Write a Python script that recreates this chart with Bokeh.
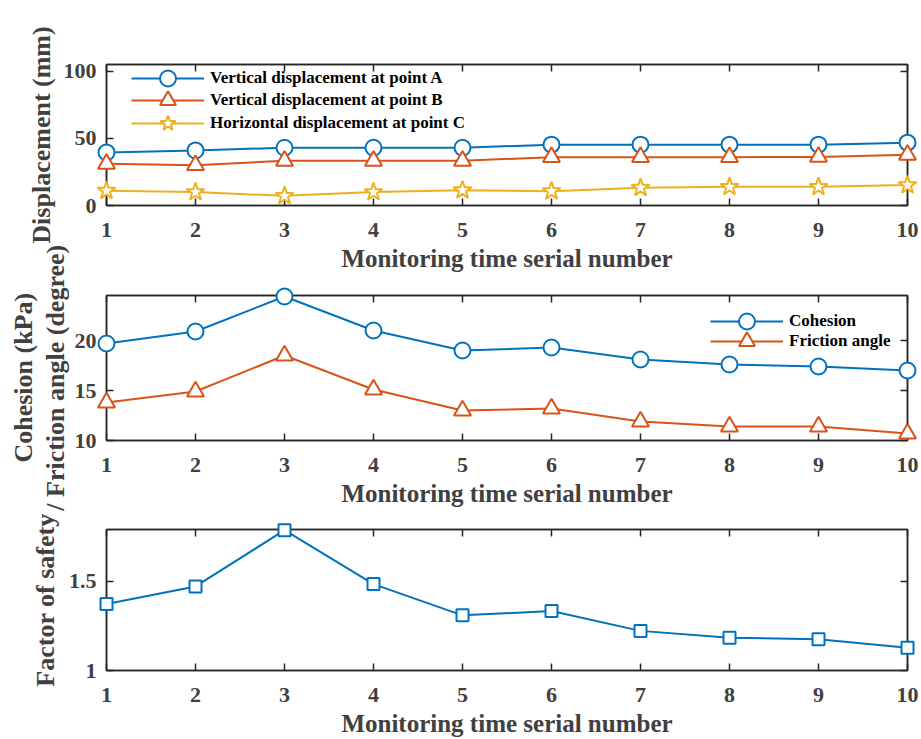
from bokeh.plotting import figure
from bokeh.layouts import column
from bokeh.models import FixedTicker, LinearAxis, Legend, LegendItem, Range1d
from bokeh.embed import file_html
from bokeh.resources import INLINE

# ---------------- data ----------------
serial = [1, 2, 3, 4, 5, 6, 7, 8, 9, 10]
disp_A = [39.5, 41.0, 43.0, 43.0, 43.0, 45.3, 45.3, 45.3, 45.3, 46.8]
disp_B = [31.0, 30.0, 33.3, 33.3, 33.3, 36.0, 36.0, 36.0, 36.2, 37.8]
disp_C = [11.0, 10.0, 7.2, 10.0, 11.4, 10.7, 13.2, 13.9, 13.9, 15.2]
cohesion = [19.7, 20.9, 24.4, 21.0, 19.0, 19.3, 18.1, 17.6, 17.4, 17.0]
friction = [13.8, 14.9, 18.5, 15.1, 13.0, 13.2, 11.9, 11.4, 11.4, 10.7]
fos = [1.373, 1.471, 1.786, 1.484, 1.309, 1.333, 1.222, 1.184, 1.175, 1.127]

disp_ticks = [0, 50, 100]
cf_ticks = [10, 15, 20]
fos_ticks = [1, 1.5]
fos_labels = {1: "1", 1.5: "1.5"}

legend_disp = ["Vertical displacement at point A",
               "Vertical displacement at point B",
               "Horizontal displacement at point C"]
legend_cf = ["Cohesion", "Friction angle"]

x_title = "Monitoring time serial number"
PAD = "\u00a0\u00a0\u00a0"  # trailing no-break spaces nudge the rotated two-line label down
y_titles = ["Displacement (mm)",
            "Cohesion (kPa)" + PAD + "\n/ Friction angle (degree)" + PAD,
            "Factor of safety"]

# ---------------- style ----------------
FONT = "Liberation Serif"
AX = "#262626"
TXT = "#404040"
BLUE = "#0072BD"
ORANGE = "#D95319"
YELLOW = "#EDB120"


def style_axis(ax, ticks, show_labels=True, overrides=None):
    ax.ticker = FixedTicker(ticks=ticks)
    ax.axis_line_color = AX
    ax.axis_line_width = 1.5
    ax.major_tick_line_color = AX
    ax.major_tick_line_width = 1.5
    ax.major_tick_in = 7
    ax.major_tick_out = 0
    ax.minor_tick_line_color = None
    ax.major_label_text_font = FONT
    ax.major_label_text_font_style = "bold"
    ax.major_label_text_font_size = "22px"
    ax.major_label_text_color = TXT
    ax.axis_label_text_font = FONT
    ax.axis_label_text_font_style = "bold"
    ax.axis_label_text_color = TXT
    ax.axis_label_text_font_size = "25px"
    if overrides:
        ax.major_label_overrides = overrides
    if not show_labels:
        ax.major_label_overrides = {t: "" for t in ticks}
        ax.major_label_standoff = 0


def make_fig(height, top, bottom, yr, yticks, overrides=None):
    p = figure(width=921, height=height, x_range=Range1d(1, 10), y_range=Range1d(*yr),
               output_backend="svg", toolbar_location=None,
               min_border_left=106, min_border_right=14,
               min_border_top=top, min_border_bottom=bottom)
    p.xgrid.visible = False
    p.ygrid.visible = False
    p.outline_line_color = AX
    p.outline_line_width = 1.5
    p.background_fill_color = "white"
    p.border_fill_color = "white"
    style_axis(p.xaxis[0], serial)
    style_axis(p.yaxis[0], yticks, overrides=overrides)
    p.xaxis[0].major_label_standoff = 17
    p.yaxis[0].major_label_standoff = 10
    p.xaxis[0].axis_label = x_title
    p.yaxis[0].axis_label_text_font_size = "26px"
    top_ax = LinearAxis()
    style_axis(top_ax, serial, show_labels=False)
    right_ax = LinearAxis()
    style_axis(right_ax, yticks, show_labels=False)
    p.add_layout(top_ax, "above")
    p.add_layout(right_ax, "right")
    return p


def series(p, y, color, marker, size):
    l = p.line(serial, y, line_color=color, line_width=2, level="overlay")
    s = p.scatter(serial, y, marker=marker, size=size, line_color=color, line_width=2,
                  fill_color="white", level="overlay")
    return [l, s]


def add_legend_row(p, label, renderers, location):
    # one legend per row so that the legend markers can be as large as the plot markers
    p.add_layout(Legend(items=[LegendItem(label=label, renderers=renderers)],
                        location=location, orientation="vertical",
                        border_line_color=None, background_fill_alpha=0,
                        padding=0, margin=0, spacing=0, glyph_width=73, glyph_height=40,
                        label_height=20, label_standoff=6,
                        label_text_font=FONT, label_text_font_style="bold",
                        label_text_font_size="17px", label_text_color="black"))


# ---------------- panel 1 ----------------
p1 = make_fig(278, 64, 73, (0, 105), disp_ticks)
p1.yaxis[0].axis_label = y_titles[0]
p1.yaxis[0].axis_label_standoff = 5
p1.xaxis[0].axis_label_standoff = 6
rA = series(p1, disp_A, BLUE, "circle", 16)
rB = series(p1, disp_B, ORANGE, "triangle", 17)
rC = series(p1, disp_C, YELLOW, "star", 19)
add_legend_row(p1, legend_disp[0], rA, (25, 107))
add_legend_row(p1, legend_disp[1], rB, (25, 85))
add_legend_row(p1, legend_disp[2], rC, (25, 62))

# ---------------- panel 2 ----------------
# overlaps the bottom margin of panel 1 so that its two-line y label has room
p2 = make_fig(298, 80, 73, (10, 24.5), cf_ticks)
p2.margin = (-63, 0, 0, 0)
p2.border_fill_alpha = 0
p2.yaxis[0].axis_label = y_titles[1]
p2.yaxis[0].axis_label_text_line_height = 1.08
p2.yaxis[0].axis_label_standoff = 2
p2.xaxis[0].axis_label_standoff = 0
rCo = series(p2, cohesion, BLUE, "circle", 16)
rFr = series(p2, friction, ORANGE, "triangle", 17)
add_legend_row(p2, legend_cf[0], rCo, (604, 99))
add_legend_row(p2, legend_cf[1], rFr, (604, 79))

# ---------------- panel 3 ----------------
p3 = make_fig(226, 16, 66, (1, 1.79), fos_ticks, overrides=fos_labels)
p3.yaxis[0].axis_label = y_titles[2]
p3.yaxis[0].axis_label_standoff = 6
p3.xaxis[0].axis_label_standoff = 0
p3.xaxis[0].major_label_standoff = 15
series(p3, fos, BLUE, "square", 12)

layout = column(p1, p2, p3, spacing=0)
open("out.html", "w").write(file_html(layout, INLINE))
